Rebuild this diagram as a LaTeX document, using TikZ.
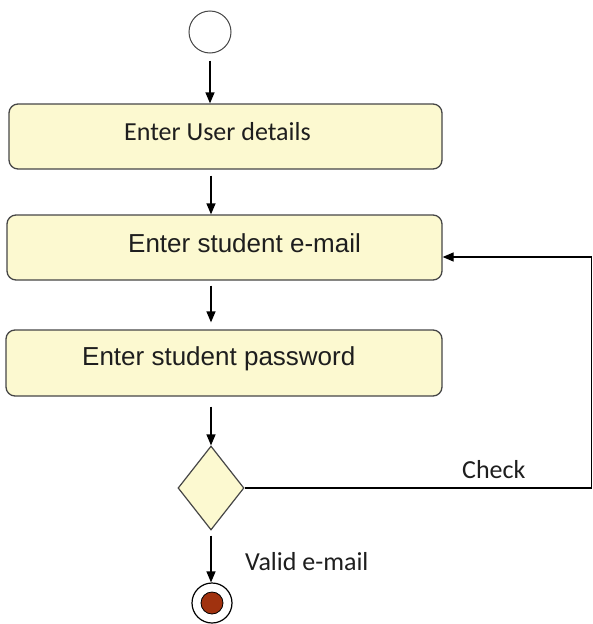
\documentclass[tikz,border=0pt]{standalone}
\usepackage{fontspec}
\setmainfont{Carlito}
\newfontfamily\arialf{Liberation Sans}
\usetikzlibrary{shapes.geometric,arrows.meta}
\definecolor{boxfill}{RGB}{252,249,208}
\definecolor{boxline}{RGB}{70,70,70}
\definecolor{endred}{RGB}{160,50,15}
\definecolor{txt}{RGB}{30,30,30}
\begin{document}
\begin{tikzpicture}[x=1pt,y=-1pt,
  act/.style={draw=boxline, fill=boxfill, rounded corners=9pt, line width=1.3pt, inner sep=0pt},
  flow/.style={-{Triangle[length=11pt,width=9pt]}, line width=1.3pt, black},
  lbl/.style={text=txt, inner sep=0pt, anchor=base west, font=\fontsize{26}{30}\selectfont},
  albl/.style={text=txt, inner sep=0pt, anchor=base west, font=\arialf\fontsize{26}{30}\selectfont},
]
\useasboundingbox (0,0) rectangle (593,624);
% start
\node[circle, draw=boxline, fill=white, minimum size=42pt, line width=1pt, inner sep=0pt] (start) at (210,32) {};
% activities
\node[act, minimum width=433pt, minimum height=65pt] (b1) at (225.5,136.5) {};
\node[lbl] (t1) at (124,140) {Enter User details};
\node[act, minimum width=435pt, minimum height=65pt] (b2) at (224.5,247.5) {};
\node[albl] (t2) at (128,252) {Enter student e-mail};
\node[act, minimum width=436pt, minimum height=66pt] (b3) at (224,363) {};
\node[albl] (t3) at (82,365) {Enter student password};
% decision
\node[diamond, draw=boxline, fill=boxfill, line width=1.2pt, minimum width=66pt, minimum height=84pt, inner sep=0pt] (dec) at (211,488) {};
% end
\node[circle, draw=black, fill=white, minimum size=40pt, line width=1.2pt, inner sep=0pt] (end) at (212,603) {};
\node[circle, draw=black, fill=endred, minimum size=22pt, line width=0.8pt, inner sep=0pt] (endin) at (212,603) {};
% connectors
\draw[flow, shorten <=7pt] (start.south) -- (start.south |- b1.north);
\draw[flow, shorten <=6pt] (b1.south -| dec) -- (dec |- b2.north);
\draw[flow, shorten <=5pt] (b2.south -| dec) -- ([yshift=7pt]dec |- b3.north);
\draw[flow, shorten <=10pt] (b3.south -| dec) -- (dec.north);
\draw[flow, shorten <=5pt] (dec.south) -- (dec |- end.north);
\coordinate (c2) at (591.5,257);
\coordinate (c1) at (dec.east -| c2);
\draw[flow] (dec.east) -- (c1) -- (c2) -- (b2.east |- c2);
% labels
\node[lbl] (chk) at (462,478) {Check};
\node[lbl] (val) at (245,570) {Valid e-mail};
\end{tikzpicture}
\end{document}
